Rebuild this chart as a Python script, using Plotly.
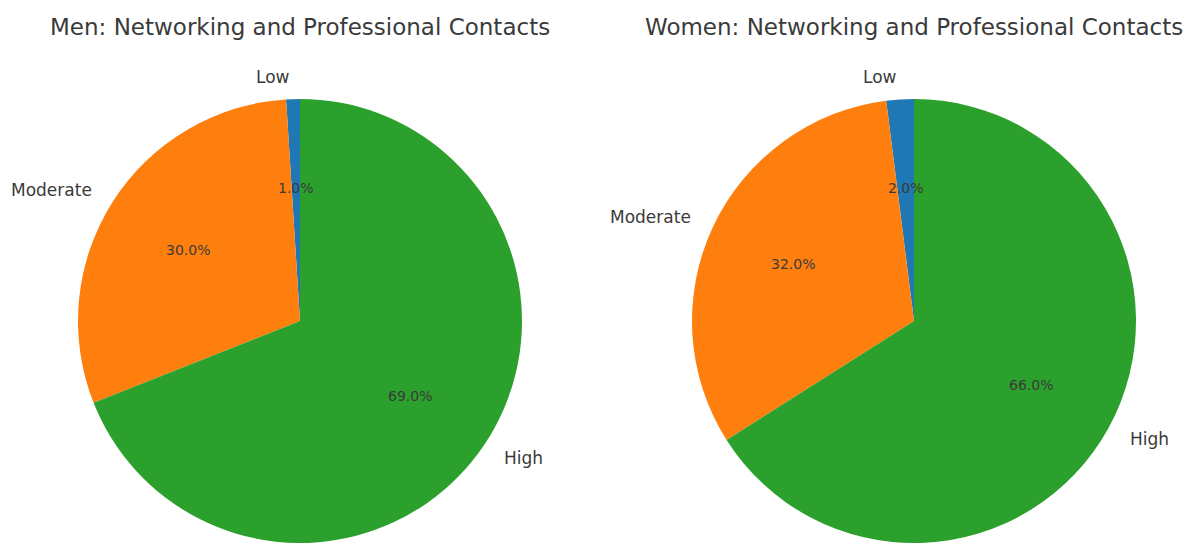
import numpy as np
import plotly.graph_objects as go

# Networking and professional contacts, share by level (%)
categories = ["Low", "Moderate", "High"]
men_values = [1.0, 30.0, 69.0]
women_values = [2.0, 32.0, 66.0]
titles = ["Men: Networking and Professional Contacts",
          "Women: Networking and Professional Contacts"]
colors = ["#1f77b4", "#ff7f0e", "#2ca02c"]

W, H = 1197, 543
TEXT = "#3a3a3a"
FONT = "DejaVu Sans"

# pie domains in paper coordinates
domains = [
    dict(x=[76 / W, 524 / W], y=[0, 444 / H]),
    dict(x=[690 / W, 1138 / W], y=[0, 444 / H]),
]

fig = go.Figure()
annotations = []

for values, title, dom in zip([men_values, women_values], titles, domains):
    vals = np.array(values, dtype=float)
    frac = vals / vals.sum()

    # plotly's counterclockwise pies end the first slice at 12 o'clock;
    # turn the pie so the first slice starts there instead
    first_deg = float(360 * frac[0])

    fig.add_trace(go.Pie(
        labels=categories,
        values=values,
        sort=False,
        direction="counterclockwise",
        rotation=-first_deg,
        marker=dict(colors=colors, line=dict(width=0)),
        textinfo="none",
        hoverinfo="label+percent",
        showlegend=False,
        domain=dom,
    ))

    # geometry of the drawn pie in pixels
    wpx = (dom["x"][1] - dom["x"][0]) * W
    hpx = (dom["y"][1] - dom["y"][0]) * H
    r = min(wpx, hpx) / 2
    cx = (dom["x"][0] + dom["x"][1]) / 2
    cy = (dom["y"][0] + dom["y"][1]) / 2

    start = 90 + 360 * np.concatenate([[0], np.cumsum(frac)[:-1]])
    mid = np.deg2rad(start + 180 * frac)

    for lab, v, th in zip(categories, vals, mid):
        # category label outside the wedge
        lx = np.cos(th) * 1.1 * r
        ly = np.sin(th) * 1.1 * r
        annotations.append(dict(
            x=cx + lx / W, y=cy + ly / H, xref="paper", yref="paper",
            text=lab, showarrow=False,
            xanchor="left" if lx > 0 else "right", yanchor="middle",
            font=dict(family=FONT, size=17, color=TEXT),
        ))
        # percentage inside the wedge
        px = np.cos(th) * 0.6 * r
        py = np.sin(th) * 0.6 * r
        annotations.append(dict(
            x=cx + px / W, y=cy + py / H, xref="paper", yref="paper",
            text=f"{v:.1f}%", showarrow=False,
            xanchor="center", yanchor="middle",
            font=dict(family=FONT, size=14, color=TEXT),
        ))

    annotations.append(dict(
        x=cx, y=1 - 27 / H, xref="paper", yref="paper",
        text=title, showarrow=False, xanchor="center", yanchor="middle",
        font=dict(family=FONT, size=23, color=TEXT),
    ))

fig.update_layout(
    width=W, height=H,
    margin=dict(l=0, r=0, t=0, b=0),
    paper_bgcolor="white", plot_bgcolor="white",
    annotations=annotations,
)

fig.write_html("out.html")
